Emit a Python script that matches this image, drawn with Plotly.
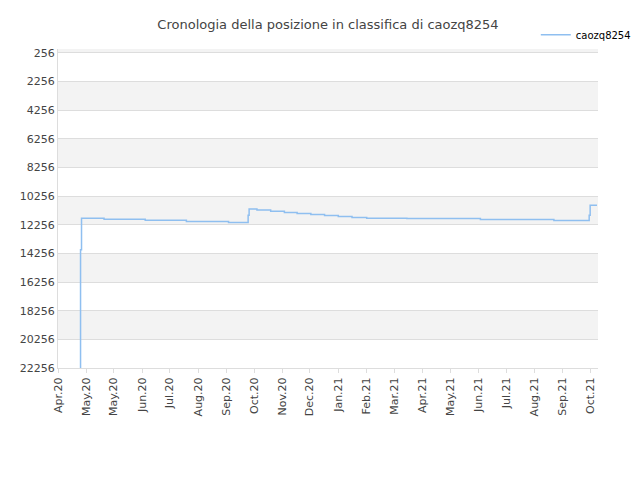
import plotly.graph_objects as go
import datetime as dt

dates = ["2020-04-24","2020-04-24","2020-04-25","2020-05-18","2020-06-29","2020-08-10","2020-09-22",
         "2020-10-12","2020-10-13","2020-10-21","2020-11-04","2020-11-18","2020-12-01","2020-12-15",
         "2020-12-29","2021-01-12","2021-01-26","2021-02-10","2021-03-23","2021-06-06","2021-08-20",
         "2021-09-25","2021-09-26","2021-10-03"]
ranks = [22256,14000,11806,11876,11947,12042,12113,
         11600,11160,11232,11327,11399,11470,11542,
         11613,11685,11760,11800,11828,11900,11970,
         11600,10900,10900]

tick_labels = ["Apr.20","May.20","May.20","Jun.20","Jul.20","Aug.20","Sep.20","Oct.20","Nov.20","Dec.20",
               "Jan.21","Feb.21","Mar.21","Apr.21","May.21","Jun.21","Jul.21","Aug.21","Sep.21","Oct.21"]
y_ticks = list(range(256, 22257, 2000))

start = dt.date(2020, 4, 1)
tickvals = [(start + dt.timedelta(days=round(i * 28.6))).isoformat() for i in range(len(tick_labels))]

fig = go.Figure(go.Scatter(x=dates, y=ranks, mode="lines", line=dict(color="#8fbff0", width=1.5, shape="hv"),
                           name="caozq8254"))

shapes = [dict(type="rect", xref="paper", x0=0, x1=1, yref="y", y0=0, y1=256, fillcolor="#f3f3f3", line_width=0, layer="below")]
for lo in [2256, 6256, 10256, 14256, 18256]:
    shapes.append(dict(type="rect", xref="paper", x0=0, x1=1, yref="y", y0=lo, y1=lo+2000,
                       fillcolor="#f3f3f3", line_width=0, layer="below"))

fig.update_layout(
    width=640, height=480, paper_bgcolor="white", plot_bgcolor="white",
    font=dict(family="DejaVu Sans", size=11, color="#444"),
    title=dict(text="Cronologia della posizione in classifica di caozq8254", x=0.5, xanchor="center", y=0.975, font=dict(size=13)),
    margin=dict(l=50, r=40, t=40, b=120),
    shapes=shapes,
    showlegend=True,
    legend=dict(x=1.07, y=1.09, xanchor="right", yanchor="top", font=dict(size=10, color="#000")),
    xaxis=dict(range=[start.isoformat(), "2021-10-04"], tickvals=tickvals, ticktext=tick_labels, tickangle=-90,
               showgrid=False, showline=True, linecolor="#ddd", ticks="outside", ticklen=4, tickcolor="#ddd"),
    yaxis=dict(range=[22256, 0], tickvals=y_ticks, ticktext=[str(v) for v in y_ticks], showgrid=True, gridcolor="#ddd",
               showline=True, linecolor="#ddd", zeroline=False),
)
fig.write_html("out.html")
